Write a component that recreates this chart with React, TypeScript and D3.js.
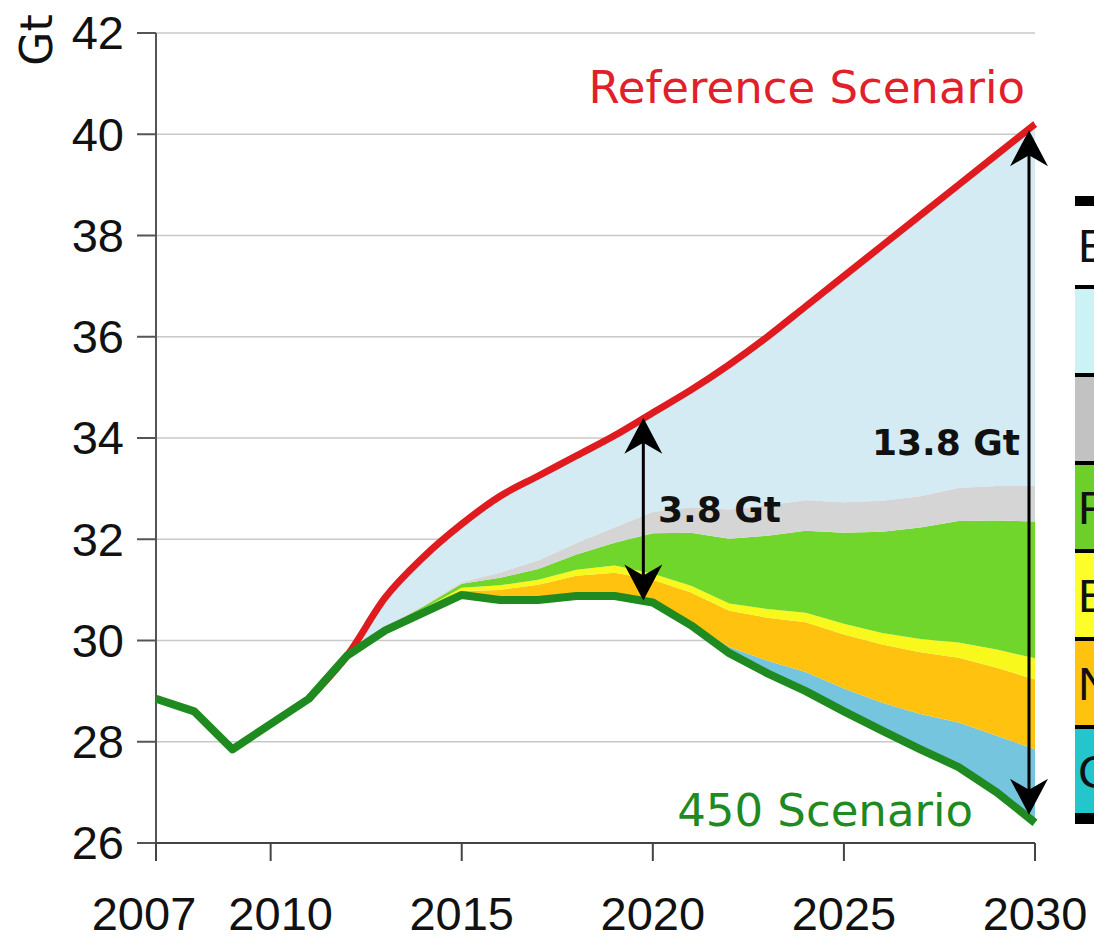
import React from 'react';
import * as d3 from 'd3';

// World energy-related CO2 emissions, Reference vs 450 Scenario (Gt)
const years = [2007, 2008, 2009, 2010, 2011, 2012, 2013, 2014, 2015, 2016, 2017, 2018,
  2019, 2020, 2021, 2022, 2023, 2024, 2025, 2026, 2027, 2028, 2029, 2030];
const scenario450 = [28.85, 28.6, 27.85, 28.35, 28.85, 29.7, 30.2, 30.55, 30.9, 30.8, 30.8, 30.88,
  30.88, 30.75, 30.3, 29.75, 29.35, 29.0, 28.6, 28.22, 27.85, 27.5, 27.0, 26.4];

const refYears = [2011, 2012, 2013, 2014, 2015, 2016, 2017, 2018, 2019, 2020,
  2021, 2022, 2023, 2024, 2025, 2026, 2027, 2028, 2029, 2030];
const referenceScenario = [28.85, 29.7, 30.85, 31.65, 32.3, 32.85, 33.25, 33.65, 34.05, 34.5,
  34.95, 35.45, 36.0, 36.6, 37.2, 37.8, 38.4, 39.0, 39.6, 40.2];

// abatement wedges stacked on top of the 450 line (Gt)
const wedgeYears = [2012, 2013, 2014, 2015, 2016, 2017, 2018, 2019, 2020, 2021,
  2022, 2023, 2024, 2025, 2026, 2027, 2028, 2029, 2030];
const ccs = [0, 0, 0, 0, 0, 0, 0, 0, 0, 0.05, 0.12, 0.25, 0.38, 0.45, 0.55, 0.7, 0.88, 1.12, 1.45];
const nuclear = [0, 0.02, 0.04, 0.08, 0.2, 0.3, 0.4, 0.46, 0.45, 0.6, 0.72, 0.85, 0.98, 1.07, 1.15, 1.22, 1.28, 1.34, 1.38];
const biofuels = [0, 0.02, 0.04, 0.06, 0.09, 0.1, 0.12, 0.14, 0.12, 0.13, 0.14, 0.17, 0.19, 0.21, 0.23, 0.26, 0.3, 0.36, 0.42];
const renewables = [0, 0.02, 0.04, 0.08, 0.15, 0.21, 0.3, 0.45, 0.8, 1.05, 1.28, 1.45, 1.62, 1.8, 2.0, 2.2, 2.4, 2.55, 2.7];
const powerPlants = [0, 0.02, 0.02, 0.03, 0.1, 0.17, 0.22, 0.3, 0.42, 0.5, 0.58, 0.6, 0.6, 0.6, 0.61, 0.62, 0.65, 0.68, 0.7];

const yTicks = [26, 28, 30, 32, 34, 36, 38, 40, 42];
const xTicks = [2007, 2010, 2015, 2020, 2025, 2030];

const legendLabels = ['Efficiency', 'End-use efficiency', 'Power plants', 'Renewables', 'Biofuels', 'Nuclear', 'CCS'];
const legendIndent = [false, true, true, false, false, false, false];

const wedgeKeys = ['ccs', 'nuclear', 'biofuels', 'renewables', 'powerPlants'];
const wedgeColors: Record<string, string> = {
  ccs: '#74c5dd',
  nuclear: '#ffc20e',
  biofuels: '#f8f81c',
  renewables: '#70d62c',
  powerPlants: '#d5d5d5',
};
const legendColors = ['#ffffff', '#cbf3f6', '#c2c2c2', '#6ccf2a', '#fdfd2a', '#ffc20e', '#22c6cb'];

const W = 1094;
const H = 941;
const SANS = '"DejaVu Sans", Verdana, sans-serif';
const TICK_FONT = '"Liberation Sans", Arial, sans-serif';

export default function App() {
  const x = d3.scaleLinear().domain([2007, 2030]).range([156, 1035]);
  const y = d3.scaleLinear().domain([26, 42]).range([843, 33]);

  const base = new Map(years.map((yr, i) => [yr, scenario450[i]]));

  const table = wedgeYears.map((yr, i) => ({
    year: yr,
    ccs: ccs[i],
    nuclear: nuclear[i],
    biofuels: biofuels[i],
    renewables: renewables[i],
    powerPlants: powerPlants[i],
  }));
  const stacked = d3.stack<any>().keys(wedgeKeys)(table);
  const top = stacked[stacked.length - 1];

  const wedgeArea = d3.area<any>()
    .x((d) => x(d.data.year))
    .y0((d) => y(base.get(d.data.year)! + d[0]))
    .y1((d) => y(base.get(d.data.year)! + d[1]));

  const line450 = d3.line<number>()
    .x((_d, i) => x(years[i]))
    .y((d) => y(d));
  const lineRef = d3.line<number>()
    .x((_d, i) => x(refYears[i]))
    .y((d) => y(d))
    .curve(d3.curveMonotoneX);

  // efficiency wedge: smooth Reference line on top, stack top (reversed) below
  const refFrom2012 = referenceScenario.slice(refYears.indexOf(2012));
  const effTop = d3.line<number>()
    .x((_d, i) => x(wedgeYears[i]))
    .y((d) => y(d))
    .curve(d3.curveMonotoneX)(refFrom2012)!;
  const effBottom = d3.line<any>()
    .x((d) => x(d.data.year))
    .y((d) => y(base.get(d.data.year)! + d[1]))([...top].reverse())!;
  const effPath = effTop + 'L' + effBottom.slice(1) + 'Z';

  const arrow = (ax: number, yTop: number, yBot: number) => (
    <g>
      <line x1={ax} x2={ax} y1={yTop + 20} y2={yBot - 20} stroke="#000" strokeWidth={3} />
      <path d={`M${ax},${yTop} L${ax - 19},${yTop + 36} L${ax},${yTop + 25} L${ax + 19},${yTop + 36} Z`} fill="#000" />
      <path d={`M${ax},${yBot} L${ax - 19},${yBot - 36} L${ax},${yBot - 25} L${ax + 19},${yBot - 36} Z`} fill="#000" />
    </g>
  );

  const iLast = referenceScenario.length - 1;
  const i2020 = refYears.indexOf(2020);
  const j2020 = years.indexOf(2020);

  const legendX = 1075;
  const rowPitch = 88;
  const firstRow = 289;

  return (
    <svg
      width={W}
      height={H}
      style={{ position: 'absolute', left: 0, top: 0, background: '#fff' }}
    >
      <rect x={0} y={0} width={W} height={H} fill="#fff" />

      {/* gridlines */}
      {yTicks.map((t) => (
        <line key={t} x1={x(2007)} x2={x(2030)} y1={y(t)} y2={y(t)} stroke="#c8c8c8" strokeWidth={1.6} />
      ))}

      {/* wedges */}
      <path d={effPath} fill="#d4ebf3" />
      {stacked.map((s) => (
        <path key={s.key} d={wedgeArea(s)!} fill={wedgeColors[s.key]} />
      ))}

      {/* axes */}
      <line x1={x(2007)} x2={x(2007)} y1={y(42)} y2={y(26)} stroke="#555" strokeWidth={2} />
      <line x1={x(2007)} x2={x(2030)} y1={y(26)} y2={y(26)} stroke="#444" strokeWidth={2} />
      {yTicks.map((t) => (
        <g key={t}>
          <line x1={x(2007) - 19} x2={x(2007)} y1={y(t)} y2={y(t)} stroke="#555" strokeWidth={2} />
          <text
            x={124}
            y={y(t)}
            dy="0.35em"
            textAnchor="end"
            fontFamily={TICK_FONT}
            fontSize={47}
            fill="#111"
          >
            {t}
          </text>
        </g>
      ))}
      {xTicks.map((t, i) => (
        <g key={t}>
          <line x1={x(t)} x2={x(t)} y1={y(26)} y2={y(26) + 18} stroke="#444" strokeWidth={2} />
          <text
            x={x(t) + (i === 0 ? -12 : i === 1 ? 10 : 0)}
            y={930}
            textAnchor="middle"
            fontFamily={TICK_FONT}
            fontSize={47}
            fill="#111"
          >
            {t}
          </text>
        </g>
      ))}
      <text
        transform="translate(52,40) rotate(-90)"
        textAnchor="middle"
        fontFamily={SANS}
        fontSize={44}
        fill="#111"
      >
        Gt
      </text>

      {/* scenario lines */}
      <path d={lineRef(referenceScenario)!} fill="none" stroke="#e01b1f" strokeWidth={7} strokeLinejoin="round" />
      <path d={line450(scenario450)!} fill="none" stroke="#1f8a1f" strokeWidth={8} strokeLinejoin="round" />

      {/* savings arrows */}
      {arrow(x(2020) - 9.5, y(referenceScenario[i2020]) + 5, y(scenario450[j2020]) - 2)}
      {arrow(x(2030) - 6, y(referenceScenario[iLast]) + 6, y(scenario450[scenario450.length - 1]) - 8)}

      <text x={658} y={522} fontFamily={SANS} fontWeight="bold" fontSize={36} fill="#111">3.8 Gt</text>
      <text x={1020} y={455} textAnchor="end" fontFamily={SANS} fontWeight="bold" fontSize={36} fill="#111">13.8 Gt</text>

      <text x={1025} y={103} textAnchor="end" fontFamily={SANS} fontSize={45} fill="#e0202a">Reference Scenario</text>
      <text x={973} y={826} textAnchor="end" fontFamily={SANS} fontSize={45} fill="#1f8a1f">450 Scenario</text>

      {/* legend table, clipped at the right edge as in the source */}
      <rect x={legendX} y={196} width={100} height={628} fill="#000" />
      <rect x={legendX} y={206} width={100} height={79} fill="#fff" />
      {legendLabels.slice(1).map((lab, i) => (
        <rect key={lab} x={legendX} y={firstRow + i * rowPitch} width={100} height={84} fill={legendColors[i + 1]} />
      ))}
      {legendLabels.map((lab, i) => (
        <text
          key={lab}
          x={legendX + 3 + (legendIndent[i] ? 40 : 0)}
          y={i === 0 ? 262 : firstRow + (i - 1) * rowPitch + 59}
          fontFamily={TICK_FONT}
          fontSize={47}
          fill="#111"
        >
          {lab}
        </text>
      ))}
    </svg>
  );
}
